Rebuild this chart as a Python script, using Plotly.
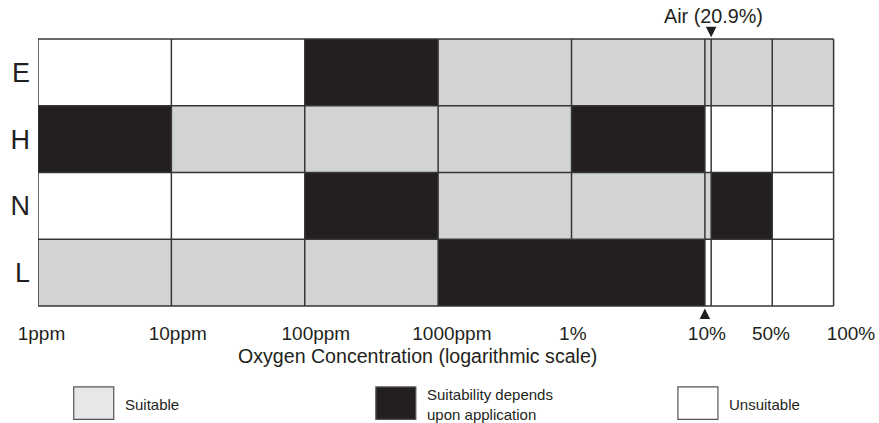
import plotly.graph_objects as go

# ---------------- data ----------------
rows = ["E", "H", "N", "L"]                      # top to bottom
# column boundaries (schematic oxygen-concentration axis)
edge_names = ["1ppm", "10ppm", "100ppm", "1000ppm", "1%", "10%", "Air", "50%", "100%"]
edge_pos = [0.0, 1.0, 2.0, 3.0, 4.0, 5.0, 5.047, 5.505, 5.965]
# suitability per cell: 0 = suitable, 1 = depends upon application, 2 = unsuitable
status = [
    [2, 2, 1, 0, 0, 0, 0, 0],   # E
    [1, 0, 0, 0, 1, 2, 2, 2],   # H
    [2, 2, 1, 0, 0, 0, 1, 2],   # N
    [0, 0, 0, 1, 1, 2, 2, 2],   # L
]
tick_labels = ["1ppm", "10ppm", "100ppm", "1000ppm", "1%", "10%", "50%", "100%"]
tick_at = [0.026, 1.048, 2.083, 3.103, 4.01, 5.015, 5.495, 6.095]
air_label = "Air (20.9%)"
legend_labels = ["Suitable", "Suitability depends<br>upon application", "Unsuitable"]

# ---------------- style ----------------
OFF = 0
W, H = 879, 423
grid_left, grid_top, grid_bot = 38.3, 39, 305.7
decade_px = 133.33
ext_t, ext_b = 3, 3          # a little axis room above/below the grid for the markers
ML = grid_left
MR = 0
MT = grid_top - ext_t
MB = H - (grid_bot + ext_b)
plot_w = W - ML - MR
plot_h = H - MT - MB
row_px = (grid_bot - grid_top) / len(rows)
x_max = plot_w / decade_px

C_SUIT = "#d1d3d4"
C_DEP = "#231f20"
C_UNS = "#ffffff"
C_LEG_SUIT = "#e6e7e8"
C_LINE = "#363636"
C_TEXT = "#231f20"
FONT = "Liberation Sans, Arial, Helvetica, sans-serif"


def px_x(px):  # reference-page pixel -> paper x
    return (px - OFF - ML) / plot_w


def px_y(py):  # reference-page pixel -> paper y
    return (H - MB - (py - OFF)) / plot_h


fig = go.Figure()

fig.add_trace(go.Heatmap(
    z=status,
    x=edge_pos,
    y=list(range(len(rows) + 1)),
    zmin=0, zmax=2,
    colorscale=[[0, C_SUIT], [0.3333, C_SUIT], [0.3334, C_DEP], [0.6666, C_DEP],
                [0.6667, C_UNS], [1, C_UNS]],
    showscale=False,
    hoverinfo="skip",
))

shapes = []
# vertical grid lines, per row (no line between two black cells)
for r, row in enumerate(status):
    for j, xp in enumerate(edge_pos):
        left = row[j - 1] if j > 0 else None
        right = row[j] if j < len(row) else None
        if left == 1 and right == 1:
            continue
        shapes.append(dict(type="line", xref="x", yref="y", x0=xp, x1=xp, y0=r, y1=r + 1,
                           line=dict(color=C_LINE, width=1.5)))
# horizontal grid lines
for r in range(len(rows) + 1):
    shapes.append(dict(type="line", xref="x", yref="y", x0=edge_pos[0], x1=edge_pos[-1],
                       y0=r, y1=r, line=dict(color=C_LINE, width=1.5)))

# air / 10% markers
air_x = edge_pos[edge_names.index("Air")]
ten_x = edge_pos[edge_names.index("10%")]
fig.add_trace(go.Scatter(
    x=[air_x], y=[-1.7 / row_px], mode="markers",
    marker=dict(symbol="arrow-down", size=10.5, color=C_DEP, line=dict(width=0)),
    cliponaxis=False, hoverinfo="skip", showlegend=False))
fig.add_trace(go.Scatter(
    x=[ten_x], y=[len(rows) + 2.6 / row_px], mode="markers",
    marker=dict(symbol="arrow-up", size=10.5, color=C_DEP, line=dict(width=0)),
    cliponaxis=False, hoverinfo="skip", showlegend=False))

annotations = [
    dict(text=air_label, x=air_x, y=px_y(16), xref="x", yref="paper", xshift=2,
         showarrow=False, xanchor="center", yanchor="middle",
         font=dict(size=19.8, color=C_TEXT, family=FONT)),
    dict(text="Oxygen Concentration (logarithmic scale)", x=px_x(418), y=px_y(356),
         xref="paper", yref="paper", showarrow=False, xanchor="center", yanchor="middle",
         font=dict(size=19.6, color=C_TEXT, family=FONT)),
]

# legend
leg_colors = [C_LEG_SUIT, C_DEP, C_UNS]
for i, (lab, col) in enumerate(zip(legend_labels, leg_colors)):
    bx = 74 + 302 * i
    shapes.append(dict(type="rect", xref="paper", yref="paper",
                       x0=px_x(bx), x1=px_x(bx + 40), y0=px_y(419), y1=px_y(386.5),
                       fillcolor=col, line=dict(color="#555555", width=1.2)))
    annotations.append(dict(text=lab, x=px_x(bx + 49), y=px_y(404), xref="paper", yref="paper",
                            showarrow=False, xanchor="left", yanchor="middle", align="left",
                            font=dict(size=15, color=C_TEXT, family=FONT)))

fig.update_layout(
    width=W, height=H,
    margin=dict(l=ML, r=MR, t=MT, b=MB, pad=0),
    paper_bgcolor="white", plot_bgcolor="white",
    showlegend=False,
    shapes=shapes, annotations=annotations,
    xaxis=dict(range=[0, x_max], showgrid=False, zeroline=False, showline=False,
               tickvals=tick_at, ticktext=tick_labels, ticks="", ticklabelstandoff=11,
               tickfont=dict(size=19, color=C_TEXT, family=FONT), automargin=False,
               fixedrange=True),
    yaxis=dict(range=[len(rows) + ext_b / row_px, -ext_t / row_px], showgrid=False,
               zeroline=False, showline=False,
               tickvals=[r + 0.5 for r in range(len(rows))], ticktext=rows, ticks="",
               ticklabelstandoff=7, tickfont=dict(size=27, color=C_TEXT, family=FONT),
               automargin=False, fixedrange=True),
)

fig.write_html("out.html",
               config={"displayModeBar": False, "staticPlot": True},
               post_script="document.body.style.margin='0';document.body.style.overflow='hidden';")
